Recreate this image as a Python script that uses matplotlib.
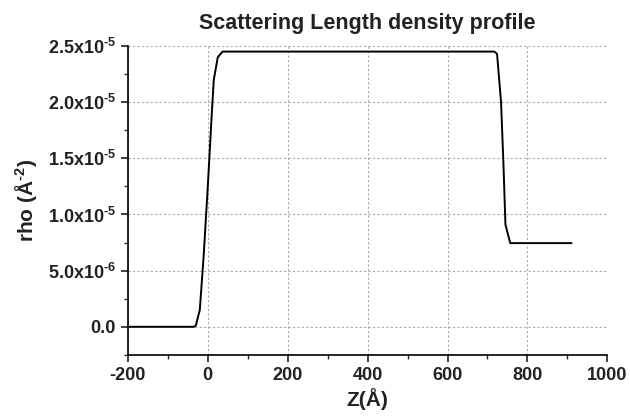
import matplotlib

matplotlib.use("Agg")
import matplotlib.pyplot as plt  # noqa: E402
from matplotlib.ticker import FixedLocator, MultipleLocator  # noqa: E402

plt.rcParams["font.family"] = ["Liberation Sans", "DejaVu Sans"]
plt.rcParams["mathtext.fontset"] = "custom"
plt.rcParams["mathtext.rm"] = "Liberation Sans:bold"
plt.rcParams["mathtext.bf"] = "Liberation Sans:bold"

# SLD profile
z = [-200, -35, -30, -20, -10, 0, 10, 15, 25, 37,
     717, 724, 734, 740, 745, 757, 910]
rho = [0.0, 0.0, 1e-7, 1.5e-6, 6.5e-6, 1.25e-5, 1.9e-5, 2.2e-5, 2.4e-5, 2.45e-5,
       2.45e-5, 2.43e-5, 2.0e-5, 1.45e-5, 9.1e-6, 7.45e-6, 7.45e-6]

yticks = [0.0, 5e-6, 1e-5, 1.5e-5, 2e-5, 2.5e-5]
ylabels = ["0.0", r"$\mathbf{5.0x10^{\text{-}6}}$", r"$\mathbf{1.0x10^{\text{-}5}}$",
           r"$\mathbf{1.5x10^{\text{-}5}}$", r"$\mathbf{2.0x10^{\text{-}5}}$",
           r"$\mathbf{2.5x10^{\text{-}5}}$"]
xticks = [-200, 0, 200, 400, 600, 800, 1000]

fig = plt.figure(figsize=(6.3, 4.18), dpi=100)
ax = fig.add_axes([0.203, 0.151, 0.761, 0.739])
ax.plot(z, rho, color="black", lw=1.4)

ax.set_xlim(-200, 1000)
ax.set_ylim(-2.5e-6, 2.5e-5)
ax.set_xticks(xticks)
ax.set_xticklabels([str(t) for t in xticks])
ax.xaxis.set_minor_locator(MultipleLocator(100))
ax.set_yticks(yticks)
ax.set_yticklabels(ylabels)
ax.yaxis.set_minor_locator(FixedLocator([-2.5e-6, 2.5e-6, 7.5e-6, 1.25e-5, 1.75e-5, 2.25e-5]))

for lab in ax.get_xticklabels() + ax.get_yticklabels():
    lab.set_fontweight("bold")
    lab.set_fontsize(13)

ax.tick_params(which="major", direction="out", length=5, width=1.2, colors="#222222")
ax.tick_params(which="minor", direction="out", length=3, width=1, colors="#222222")
ax.spines["top"].set_visible(False)
ax.spines["right"].set_visible(False)
ax.spines["left"].set_linewidth(1.2)
ax.spines["bottom"].set_linewidth(1.2)
ax.grid(True, which="major", color="#aaaaaa", linestyle=(0, (2, 2)), linewidth=0.8)

ax.set_title("Scattering Length density profile", fontsize=15.5, fontweight="bold",
             pad=12, color="#222222")
ax.set_xlabel("Z(Å)", fontsize=15, fontweight="bold", labelpad=3, color="#222222")
ax.set_ylabel(r"rho (Å$^{\text{-}2}$)", fontsize=15, fontweight="bold", labelpad=6,
              color="#222222")

fig.savefig("out.png", dpi=100)
